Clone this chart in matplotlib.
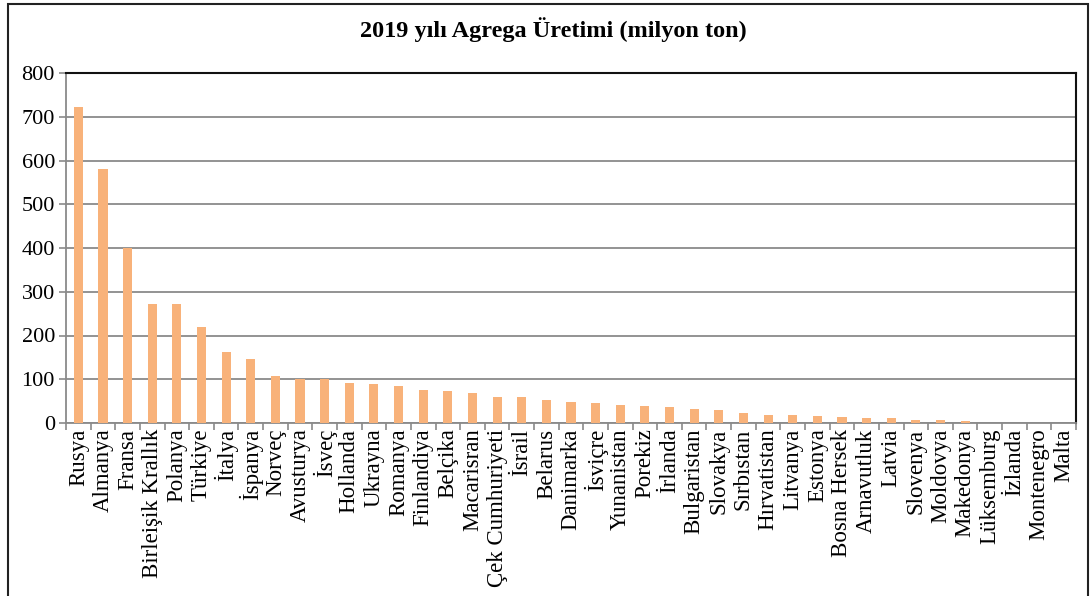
import matplotlib.pyplot as plt
from matplotlib.patches import Rectangle

plt.rcParams['font.family'] = ['Liberation Serif', 'DejaVu Serif']

# Veriler (grafikten okunan yaklaşık değerler)
countries = ['Rusya', 'Almanya', 'Fransa', 'Birleişik Krallık', 'Polanya', 'Türkiye',
             'İtalya', 'İspanya', 'Norveç', 'Avusturya', 'İsveç', 'Hollanda', 'Ukrayna',
             'Romanya', 'Finlandiya', 'Belçika', 'Macarisran', 'Çek Cumhuriyeti', 'İsrail',
             'Belarus', 'Danimarka', 'İsviçre', 'Yunanistan', 'Porekiz', 'İrlanda',
             'Bulgaristan', 'Slovakya', 'Sırbıstan', 'Hırvatistan', 'Litvanya', 'Estonya',
             'Bosna Hersek', 'Arnavutluk', 'Latvia', 'Slovenya', 'Moldovya', 'Makedonya',
             'Lüksemburg', 'İzlanda', 'Montenegro', 'Malta']
production = [723, 580, 399, 271, 271, 220, 162, 146, 108, 101, 101, 92, 89,
              85, 76, 74, 68, 60, 60, 53, 48, 46, 42, 39, 37,
              31, 29, 22, 18, 18, 15, 13, 11, 11, 8, 6, 3.5,
              0.6, 0.3, 0.2, 0.1]
yticks = [0, 100, 200, 300, 400, 500, 600, 700, 800]

fig = plt.figure(figsize=(10.92, 5.96), dpi=100)
ax = fig.add_axes([66 / 1092, 1 - 423 / 596, 1010 / 1092, 350 / 596])

x = range(len(countries))
ax.bar(x, production, width=0.37, color='#F8B27A', zorder=3)

ax.set_xlim(-0.5, len(countries) - 0.5)
ax.set_ylim(0, 800)
ax.set_yticks(yticks)
ax.set_yticklabels([str(v) for v in yticks], fontsize=16)
ax.yaxis.grid(True, color='#8a8a8a', linewidth=1.3, zorder=0)

# Excel tarzı: kategori aralarında işaretler
ax.set_xticks([i - 0.5 for i in range(len(countries) + 1)], minor=False)
ax.set_xticklabels([])
ax.set_xticks(list(x), minor=True)
ax.set_xticklabels(countries, minor=True, rotation=90, fontsize=16.5)
ax.tick_params(axis='x', which='minor', length=0, pad=4)
ax.tick_params(axis='x', which='major', length=5, color='#8a8a8a', width=1.2)
ax.tick_params(axis='y', length=5, color='#8a8a8a', width=1.2, pad=3)

for side in ['left', 'bottom']:
    ax.spines[side].set_color('#8a8a8a')
    ax.spines[side].set_linewidth(1.3)
for side in ['top', 'right']:
    ax.spines[side].set_color('#111111')
    ax.spines[side].set_linewidth(1.5)

fig.text(553 / 1092, 1 - 30 / 596, '2019 yılı Agrega Üretimi (milyon ton)',
         ha='center', va='center', fontsize=17.5, fontweight='bold')

# Dış çerçeve
fig.patches.append(Rectangle((8 / 1092, -0.05), 1080 / 1092, 1.05 - 4 / 596,
                             transform=fig.transFigure, fill=False,
                             edgecolor='#222222', linewidth=1.5))

plt.savefig('out.png', dpi=100)
